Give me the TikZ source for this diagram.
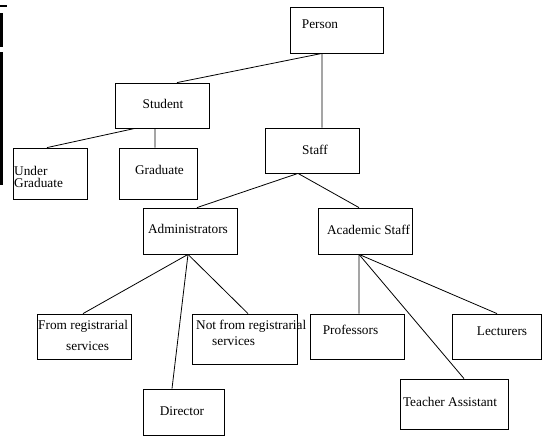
\documentclass[tikz,border=0pt]{standalone}
\usepackage{fontspec}
\setmainfont{Liberation Serif}
\usepackage{tikz}

\begin{document}
\begin{tikzpicture}[x=1bp,y=-1bp, box/.style={draw,line width=0.8bp,inner sep=0pt}, txt/.style={inner sep=0pt,font=\fontsize{13.3bp}{14bp}\selectfont}]
\useasboundingbox (0,0) rectangle (542,436);
% edge marks on the left
\fill (0,5) rectangle (7,7); \fill (0,12.7) rectangle (3,47); \fill (0,51.7) rectangle (3,185);
% boxes
\node[box,minimum width=93bp,minimum height=46bp] (person) at (336.5,30) {};
\node[box,minimum width=94bp,minimum height=45bp] (student) at (162,105.5) {};
\node[box,minimum width=74bp,minimum height=51bp] (under) at (50,173.5) {};
\node[box,minimum width=78bp,minimum height=51bp] (grad) at (158,173.5) {};
\node[box,minimum width=94bp,minimum height=45bp] (staff) at (312,150.5) {};
\node[box,minimum width=94bp,minimum height=46bp] (admin) at (190,231) {};
\node[box,minimum width=94bp,minimum height=46bp] (acad) at (365,231) {};
\node[box,minimum width=94bp,minimum height=45bp] (fromreg) at (84,336.5) {};
\node[box,minimum width=105bp,minimum height=50bp] (notreg) at (244.5,339) {};
\node[box,minimum width=81bp,minimum height=46bp] (director) at (183.5,412) {};
\node[box,minimum width=94bp,minimum height=45bp] (prof) at (357,336.5) {};
\node[box,minimum width=89bp,minimum height=45bp] (lect) at (497,336.5) {};
\node[box,minimum width=108bp,minimum height=50bp] (ta) at (454,404) {};
% texts
\node[txt] (tperson) at (320,24) {Person};
\node[txt] (tstudent) at (163,104) {Student};
\node[txt,anchor=west,align=left,font=\fontsize{13.3bp}{12bp}\selectfont] (tunder) at (14,176.5) {Under\\Graduate};
\node[txt] (tgrad) at (159.5,170) {Graduate};
\node[txt] (tstaff) at (315,150) {Staff};
\node[txt] (tadmin) at (188,229) {Administrators};
\node[txt] (tacad) at (368.5,230) {Academic Staff};
\node[txt,anchor=west,align=left,font=\fontsize{13.3bp}{21bp}\selectfont] (tfromreg) at (38,335.5) {From registrarial\\\hspace*{28bp}services};
\node[txt,anchor=west,align=left,font=\fontsize{13.3bp}{16bp}\selectfont] (tnotreg) at (196,333) {Not from registrarial\\\hspace*{16bp}services};
\node[txt] (tdirector) at (182,411) {Director};
\node[txt] (tprof) at (350.5,330) {Professors};
\node[txt] (tlect) at (502,331) {Lecturers};
\node[txt] (tta) at (450,402) {Teacher Assistant};
% lines
\draw[line width=0.8bp] ([xshift=-14.5bp]person.south)--([xshift=15bp]student.north);
\draw[line width=0.8bp] ([xshift=-14.5bp]person.south)--([xshift=10bp]staff.north);
\draw[line width=0.8bp] ([xshift=-27bp]student.south)--([xshift=-3bp]under.north);
\draw[line width=0.8bp] ([xshift=-7bp]student.south)--([xshift=-3bp]grad.north);
\draw[line width=0.8bp] ([xshift=-14bp]staff.south)--([xshift=7bp]admin.north);
\draw[line width=0.8bp] ([xshift=-14bp]staff.south)--([xshift=-6bp]acad.north);
\draw[line width=0.8bp] ([xshift=-2bp]admin.south)--([xshift=-1bp]fromreg.north);
\draw[line width=0.8bp] ([xshift=-2bp]admin.south)--([xshift=-11.5bp]director.north);
\draw[line width=0.8bp] ([xshift=-2bp]admin.south)--([xshift=3.5bp]notreg.north);
\draw[line width=0.8bp] ([xshift=-6bp]acad.south)--([xshift=2bp]prof.north);
\draw[line width=0.8bp] ([xshift=-6bp]acad.south)--([xshift=10bp]ta.north);
\draw[line width=0.8bp] ([xshift=-6bp]acad.south)--(lect.north);
\end{tikzpicture}
\end{document}
